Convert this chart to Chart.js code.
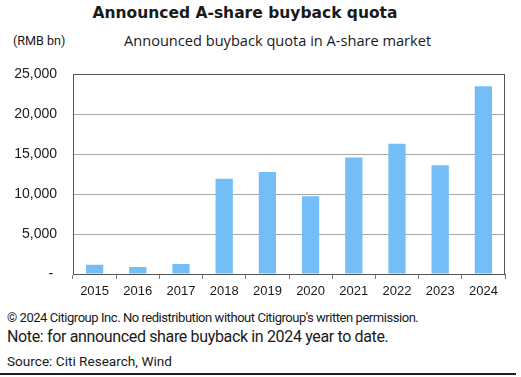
<!DOCTYPE html>
<html>
<head>
<meta charset="utf-8">
<script src="https://cdn.jsdelivr.net/npm/chart.js@4.4.0/dist/chart.umd.min.js"></script>
<style>
  html, body { margin: 0; padding: 0; background: #fff; }
  #page { position: relative; width: 521px; height: 377px; overflow: hidden; font-family: Roboto, sans-serif; color: #1a1a1a; }
  .txt { position: absolute; white-space: nowrap; line-height: 1; }
  #title { left: 0; width: 490px; top: 6px; text-align: center; font-family: "DejaVu Sans", sans-serif; font-weight: bold; font-size: 15.5px; }
  #subtitle { left: 124px; top: 33px; font-family: "Open Sans", sans-serif; font-size: 14.6px; }
  #unit { left: 13px; top: 35px; font-size: 12.6px; }
  #copy { left: 7px; top: 311px; font-size: 13px; letter-spacing: -0.45px; }
  #note { left: 7px; top: 329px; font-size: 16px; letter-spacing: -0.35px; }
  #source { left: 7px; top: 355px; font-size: 13.6px; }
  #chartBox { position: absolute; left: 0; top: 50px; width: 521px; height: 252px; }
  #rule { position: absolute; left: 0; top: 373px; width: 516px; height: 2px; background: #1b1b2b; }
</style>
</head>
<body>
<div id="page">
  <div class="txt" id="title">Announced A-share buyback quota</div>
  <div class="txt" id="unit">(RMB bn)</div>
  <div class="txt" id="subtitle">Announced buyback quota in A-share market</div>
  <div id="chartBox"><canvas id="chart"></canvas></div>
  <div class="txt" id="copy">© 2024 Citigroup Inc. No redistribution without Citigroup's written permission.</div>
  <div class="txt" id="note">Note: for announced share buyback in 2024 year to date.</div>
  <div class="txt" id="source">Source: Citi Research, Wind</div>
  <div id="rule"></div>
</div>
<script>
// datos
var years = ['2015', '2016', '2017', '2018', '2019', '2020', '2021', '2022', '2023', '2024'];
var buybackQuota = [1170, 880, 1240, 11930, 12780, 9730, 14580, 16310, 13620, 23520];
var yTicks = [0, 5000, 10000, 15000, 20000, 25000];

// marco alrededor del area del grafico
var frameBox = {
    id: 'frameBox',
    afterDraw: function (chart) {
        var a = chart.chartArea;
        var ctx = chart.ctx;
        ctx.save();
        ctx.strokeStyle = '#555';
        ctx.lineWidth = 1;
        ctx.strokeRect(Math.round(a.left) + 0.5, Math.round(a.top) + 0.5,
            Math.round(a.right - a.left) - 1, Math.round(a.bottom - a.top));
        ctx.restore();
    }
};

new Chart(document.getElementById('chart'), {
    type: 'bar',
    data: {
        labels: years,
        datasets: [{
            label: 'Announced buyback quota',
            data: buybackQuota,
            backgroundColor: '#74bef8',
            borderWidth: 0,
            barPercentage: 0.4,
            categoryPercentage: 1
        }]
    },
    options: {
        responsive: true,
        maintainAspectRatio: false,
        animation: false,
        layout: { padding: { top: 16, right: 16, left: 0, bottom: 0 } },
        plugins: {
            legend: { display: false },
            tooltip: { enabled: false }
        },
        scales: {
            x: {
                offset: true,
                grid: { offset: true, drawOnChartArea: false, drawTicks: true, tickLength: 5, color: '#777' },
                border: { color: '#555' },
                ticks: {
                    color: '#1a1a1a',
                    padding: 5,
                    font: { family: 'Liberation Sans, Arial, sans-serif', size: 13 },
                    maxRotation: 0
                },
                afterFit: function (scale) { scale.height = 28; }
            },
            y: {
                min: yTicks[0],
                max: yTicks[yTicks.length - 1],
                afterBuildTicks: function (scale) {
                    scale.ticks = yTicks.map(function (v) { return { value: v }; });
                },
                grid: { drawTicks: false, color: '#a8a8a8' },
                border: { color: '#555' },
                ticks: {
                    color: '#1a1a1a',
                    padding: 16,
                    font: { family: 'Liberation Sans, Arial, sans-serif', size: 14 },
                    callback: function (v) {
                        return v === 0 ? '-\u00a0' : v.toLocaleString('en-US');
                    }
                },
                afterFit: function (scale) { scale.width = 73; }
            }
        }
    },
    plugins: [frameBox]
});
</script>
</body>
</html>
